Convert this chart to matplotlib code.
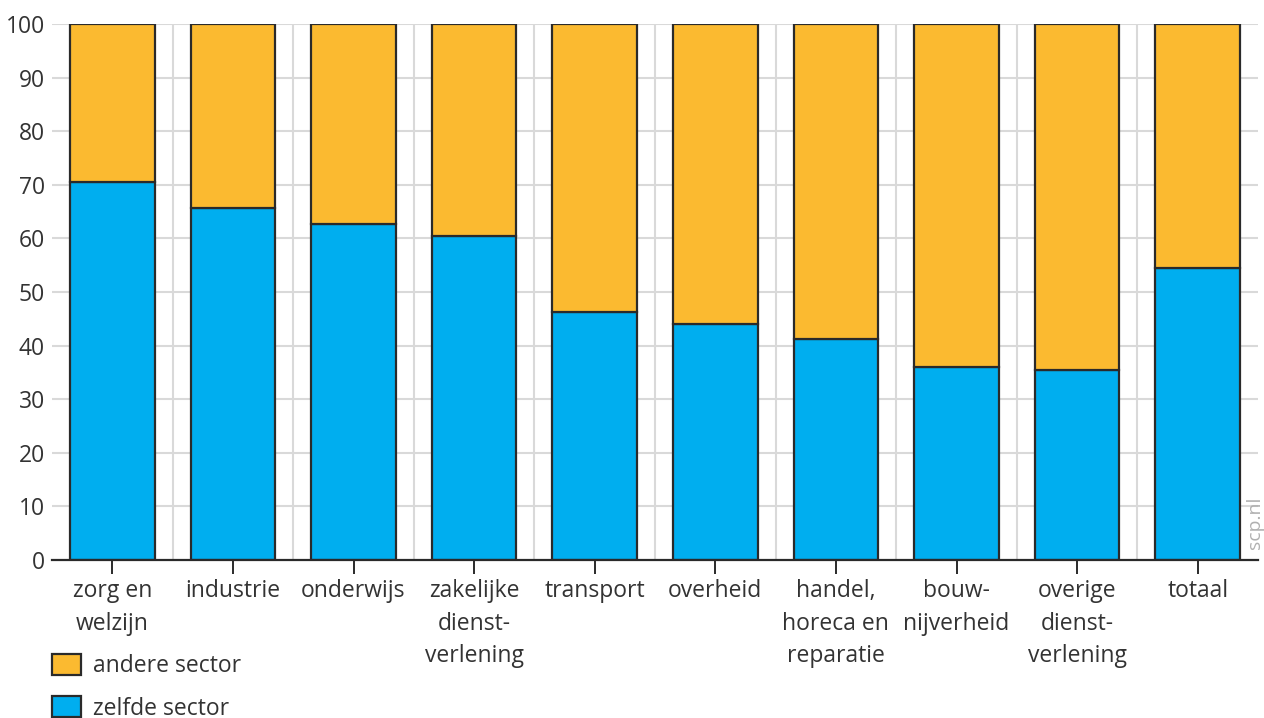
import matplotlib
matplotlib.use("Agg")
import matplotlib.pyplot as plt
from matplotlib.patches import Patch
import numpy as np

categories = ["zorg en\nwelzijn", "industrie", "onderwijs", "zakelijke\ndienst-\nverlening",
              "transport", "overheid", "handel,\nhoreca en\nreparatie", "bouw-\nnijverheid",
              "overige\ndienst-\nverlening", "totaal"]
zelfde = [70.6, 65.7, 62.6, 60.4, 46.2, 44.0, 41.3, 36.1, 35.4, 54.5]
andere = [100 - v for v in zelfde]
yticks = [0, 10, 20, 30, 40, 50, 60, 70, 80, 90, 100]

plt.rcParams['font.family'] = ['Open Sans', 'DejaVu Sans']
BLUE = "#00AEEF"
ORANGE = "#FBBA30"
EDGE = "#2a2a2a"
TXT = "#333333"
FS = 16.5

fig = plt.figure(figsize=(12.64, 7.18), dpi=100)
ax = fig.add_axes([52/1264, (718-560)/718, (1258-52)/1264, (560-24)/718])

x = np.arange(len(categories))
ax.bar(x, zelfde, width=0.70, color=BLUE, edgecolor=EDGE, linewidth=1.6, zorder=3)
ax.bar(x, andere, bottom=zelfde, width=0.70, color=ORANGE, edgecolor=EDGE, linewidth=1.6, zorder=3)

ax.set_xlim(-0.5, len(categories) - 0.5)
ax.set_ylim(0, 100)
ax.set_yticks(yticks)
ax.set_xticks(x)
ax.set_xticklabels(categories, fontsize=FS, color=TXT, linespacing=1.45)
ax.tick_params(axis='y', length=0, pad=5, labelsize=FS, labelcolor=TXT)
ax.tick_params(axis='x', length=10, width=1.4, color=EDGE, pad=4)

for v in yticks[1:]:
    ax.axhline(v, color="#d9d9d9", lw=1.5, zorder=1)
for k in range(len(categories) - 1):
    ax.axvline(k + 0.5, color="#d9d9d9", lw=1.5, zorder=1)

for s in ["top", "right", "left"]:
    ax.spines[s].set_visible(False)
ax.spines["bottom"].set_color(EDGE)
ax.spines["bottom"].set_linewidth(1.6)
ax.spines["bottom"].set_zorder(4)

handles = [Patch(facecolor=ORANGE, edgecolor=EDGE, linewidth=1.6, label="andere sector"),
           Patch(facecolor=BLUE, edgecolor=EDGE, linewidth=1.6, label="zelfde sector")]
leg = fig.legend(handles=handles, loc="upper left", bbox_to_anchor=(52/1264, 1 - 654/718),
                 frameon=False, fontsize=FS, handlelength=1.25, handleheight=1.0,
                 labelspacing=0.8, handletextpad=0.55, borderaxespad=0, borderpad=0)
for t in leg.get_texts():
    t.set_color(TXT)

fig.text(1255/1264, 1 - 523/718, "scp.nl", rotation=90, color="#b0b0b0", fontsize=14,
         ha="center", va="center")

fig.savefig("out.png", dpi=100)
